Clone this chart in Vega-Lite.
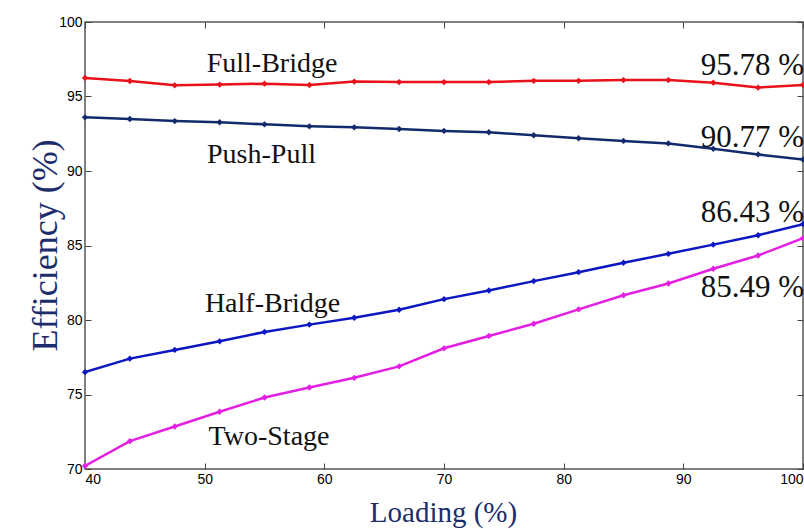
{
  "$schema": "https://vega.github.io/schema/vega-lite/v6.json",
  "autosize": "none",
  "width": 718,
  "height": 447,
  "padding": {"left": 85, "top": 22, "right": 1, "bottom": 60},
  "background": "white",
  "config": {
    "view": {"stroke": "#555555", "strokeWidth": 1.5},
    "axis": {
      "grid": false,
      "domain": false,
      "labelFont": "Liberation Sans",
      "labelFontSize": 14,
      "labelColor": "#000000",
      "tickColor": "#444444",
      "tickSize": -6,
      "tickWidth": 1
    }
  },
  "datasets": {
    "lines": [
      {"series": "Full-Bridge", "load": 40, "eff": 96.25},
      {"series": "Full-Bridge", "load": 43.75, "eff": 96.04},
      {"series": "Full-Bridge", "load": 47.5, "eff": 95.75},
      {"series": "Full-Bridge", "load": 51.25, "eff": 95.8},
      {"series": "Full-Bridge", "load": 55, "eff": 95.86},
      {"series": "Full-Bridge", "load": 58.75, "eff": 95.77},
      {"series": "Full-Bridge", "load": 62.5, "eff": 96.0},
      {"series": "Full-Bridge", "load": 66.25, "eff": 95.97},
      {"series": "Full-Bridge", "load": 70, "eff": 95.97},
      {"series": "Full-Bridge", "load": 73.75, "eff": 95.97},
      {"series": "Full-Bridge", "load": 77.5, "eff": 96.05},
      {"series": "Full-Bridge", "load": 81.25, "eff": 96.05},
      {"series": "Full-Bridge", "load": 85, "eff": 96.1},
      {"series": "Full-Bridge", "load": 88.75, "eff": 96.1},
      {"series": "Full-Bridge", "load": 92.5, "eff": 95.93},
      {"series": "Full-Bridge", "load": 96.25, "eff": 95.6},
      {"series": "Full-Bridge", "load": 100, "eff": 95.78},
      {"series": "Push-Pull", "load": 40, "eff": 93.6},
      {"series": "Push-Pull", "load": 43.75, "eff": 93.49},
      {"series": "Push-Pull", "load": 47.5, "eff": 93.35},
      {"series": "Push-Pull", "load": 51.25, "eff": 93.27},
      {"series": "Push-Pull", "load": 55, "eff": 93.13},
      {"series": "Push-Pull", "load": 58.75, "eff": 93.0},
      {"series": "Push-Pull", "load": 62.5, "eff": 92.93},
      {"series": "Push-Pull", "load": 66.25, "eff": 92.82},
      {"series": "Push-Pull", "load": 70, "eff": 92.69},
      {"series": "Push-Pull", "load": 73.75, "eff": 92.6},
      {"series": "Push-Pull", "load": 77.5, "eff": 92.4},
      {"series": "Push-Pull", "load": 81.25, "eff": 92.2},
      {"series": "Push-Pull", "load": 85, "eff": 92.02},
      {"series": "Push-Pull", "load": 88.75, "eff": 91.85},
      {"series": "Push-Pull", "load": 92.5, "eff": 91.49},
      {"series": "Push-Pull", "load": 96.25, "eff": 91.11},
      {"series": "Push-Pull", "load": 100, "eff": 90.77},
      {"series": "Half-Bridge", "load": 40, "eff": 76.5},
      {"series": "Half-Bridge", "load": 43.75, "eff": 77.41},
      {"series": "Half-Bridge", "load": 47.5, "eff": 77.99},
      {"series": "Half-Bridge", "load": 51.25, "eff": 78.57},
      {"series": "Half-Bridge", "load": 55, "eff": 79.2},
      {"series": "Half-Bridge", "load": 58.75, "eff": 79.69},
      {"series": "Half-Bridge", "load": 62.5, "eff": 80.15},
      {"series": "Half-Bridge", "load": 66.25, "eff": 80.69},
      {"series": "Half-Bridge", "load": 70, "eff": 81.4},
      {"series": "Half-Bridge", "load": 73.75, "eff": 81.98},
      {"series": "Half-Bridge", "load": 77.5, "eff": 82.61},
      {"series": "Half-Bridge", "load": 81.25, "eff": 83.21},
      {"series": "Half-Bridge", "load": 85, "eff": 83.84},
      {"series": "Half-Bridge", "load": 88.75, "eff": 84.44},
      {"series": "Half-Bridge", "load": 92.5, "eff": 85.06},
      {"series": "Half-Bridge", "load": 96.25, "eff": 85.69},
      {"series": "Half-Bridge", "load": 100, "eff": 86.43},
      {"series": "Two-Stage", "load": 40, "eff": 70.2},
      {"series": "Two-Stage", "load": 43.75, "eff": 71.87},
      {"series": "Two-Stage", "load": 47.5, "eff": 72.85},
      {"series": "Two-Stage", "load": 51.25, "eff": 73.84},
      {"series": "Two-Stage", "load": 55, "eff": 74.8},
      {"series": "Two-Stage", "load": 58.75, "eff": 75.47},
      {"series": "Two-Stage", "load": 62.5, "eff": 76.12},
      {"series": "Two-Stage", "load": 66.25, "eff": 76.89},
      {"series": "Two-Stage", "load": 70, "eff": 78.1},
      {"series": "Two-Stage", "load": 73.75, "eff": 78.93},
      {"series": "Two-Stage", "load": 77.5, "eff": 79.75},
      {"series": "Two-Stage", "load": 81.25, "eff": 80.71},
      {"series": "Two-Stage", "load": 85, "eff": 81.66},
      {"series": "Two-Stage", "load": 88.75, "eff": 82.45},
      {"series": "Two-Stage", "load": 92.5, "eff": 83.44},
      {"series": "Two-Stage", "load": 96.25, "eff": 84.33},
      {"series": "Two-Stage", "load": 100, "eff": 85.49}
    ],
    "labels": [
      {"label": "Full-Bridge", "load": 55.63, "eff": 96.64, "kind": "name"},
      {"label": "Push-Pull", "load": 54.75, "eff": 90.56, "kind": "name"},
      {"label": "Half-Bridge", "load": 55.67, "eff": 80.56, "kind": "name"},
      {"label": "Two-Stage", "load": 55.38, "eff": 71.61, "kind": "name"},
      {"label": "95.78 %", "load": 100, "eff": 96.44, "kind": "pct"},
      {"label": "90.77 %", "load": 100, "eff": 91.63, "kind": "pct"},
      {"label": "86.43 %", "load": 100, "eff": 86.6, "kind": "pct"},
      {"label": "85.49 %", "load": 100, "eff": 81.56, "kind": "pct"}
    ]
  },
  "layer": [
    {
      "data": {"name": "lines"},
      "mark": {"type": "line", "strokeWidth": 2.5, "clip": true},
      "encoding": {
        "x": {
          "field": "load", "type": "quantitative",
          "scale": {"domain": [40, 100], "nice": false, "zero": false},
          "axis": {
            "orient": "bottom", "values": [40, 50, 60, 70, 80, 90, 100],
            "labelPadding": 9,
            "title": "Loading (%)",
            "titleFont": "Liberation Serif", "titleFontSize": 29, "titleFontWeight": "normal",
            "titleColor": "#1d2d6b",
            "titleX": 358, "titleY": 52, "titleAlign": "center", "titleBaseline": "alphabetic"
          }
        },
        "y": {
          "field": "eff", "type": "quantitative",
          "scale": {"domain": [70, 100], "nice": false, "zero": false},
          "axis": {
            "orient": "left", "values": [70, 75, 80, 85, 90, 95, 100],
            "labelPadding": 9,
            "title": "Efficiency (%)",
            "titleFont": "Liberation Serif", "titleFontSize": 36, "titleFontWeight": "normal",
            "titleColor": "#1d2d6b", "titleLimit": 600,
            "titleX": -40, "titleY": 223, "titleAngle": -90, "titleAlign": "center", "titleBaseline": "middle"
          }
        },
        "color": {
          "field": "series", "type": "nominal",
          "scale": {
            "domain": ["Full-Bridge", "Push-Pull", "Half-Bridge", "Two-Stage"],
            "range": ["#e8121a", "#132b6c", "#0c16c2", "#e41fe4"]
          },
          "legend": null
        }
      }
    },
    {
      "data": {"name": "lines"},
      "mark": {"type": "point", "shape": "diamond", "filled": true, "size": 40, "opacity": 1},
      "encoding": {
        "x": {
          "field": "load", "type": "quantitative",
          "axis": {"orient": "top", "values": [40, 50, 60, 70, 80, 90, 100], "labels": false, "title": null}
        },
        "y": {
          "field": "eff", "type": "quantitative",
          "axis": {"orient": "right", "values": [70, 75, 80, 85, 90, 95, 100], "labels": false, "title": null}
        },
        "color": {"field": "series", "type": "nominal", "legend": null}
      }
    },
    {
      "data": {"name": "labels"},
      "transform": [{"filter": "datum.kind === 'name'"}],
      "mark": {"type": "text", "font": "Liberation Serif", "fontSize": 28, "align": "center", "baseline": "alphabetic", "color": "#111111"},
      "encoding": {
        "x": {"field": "load", "type": "quantitative", "axis": null},
        "y": {"field": "eff", "type": "quantitative", "axis": null},
        "text": {"field": "label"}
      }
    },
    {
      "data": {"name": "labels"},
      "transform": [{"filter": "datum.kind === 'pct'"}],
      "mark": {"type": "text", "font": "Liberation Serif", "fontSize": 31, "align": "right", "baseline": "alphabetic", "color": "#111111", "dx": 1},
      "encoding": {
        "x": {"field": "load", "type": "quantitative", "axis": null},
        "y": {"field": "eff", "type": "quantitative", "axis": null},
        "text": {"field": "label"}
      }
    }
  ],
  "resolve": {"axis": {"x": "independent", "y": "independent"}}
}
